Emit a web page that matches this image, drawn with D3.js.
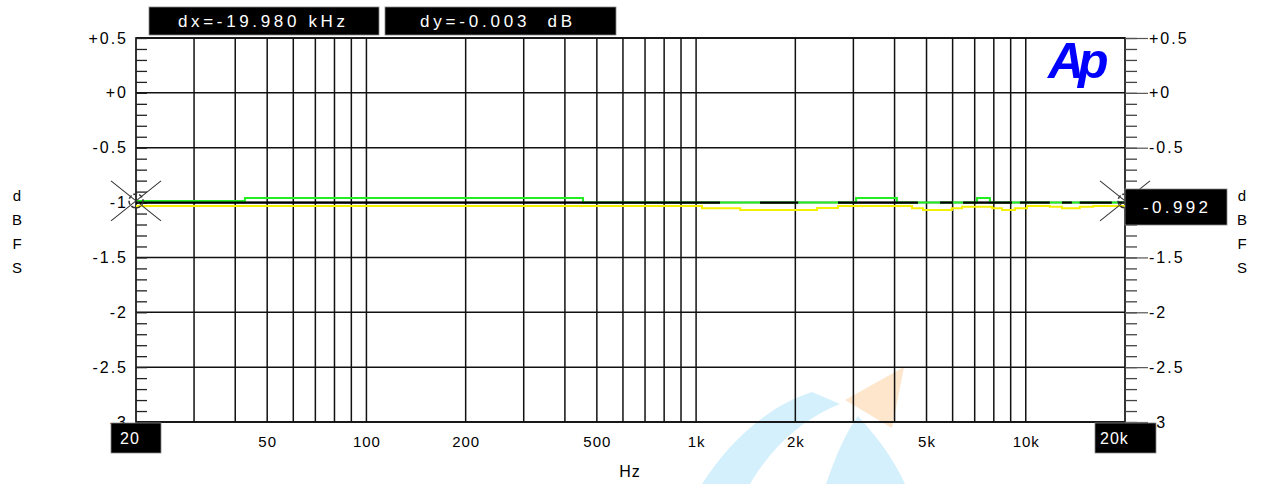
<!DOCTYPE html>
<html>
    <head>
        <title>Ap level vs frequency</title>
        <script src="https://d3js.org/d3.v7.min.js"></script>
        <style>
            body { margin: 0; background: #fff; }
            text { font-family: "Liberation Sans", Arial, sans-serif; }
        </style>
    </head>
    <body>
        <script>
            // tick values and labels
            const xTickValues = [20, 50, 100, 200, 500, 1000, 2000, 5000, 10000, 20000];
            const xTickLabels = ["20", "50", "100", "200", "500", "1k", "2k", "5k", "10k", "20k"];
            const xGridFreqs = [30, 40, 50, 60, 70, 80, 90, 100, 200, 300, 400, 500, 600, 700, 800, 900,
                                1000, 2000, 3000, 4000, 5000, 6000, 7000, 8000, 9000, 10000];
            const yTickValues = [0.5, 0, -0.5, -1, -1.5, -2, -2.5, -3];
            const yTickLabels = ["+0.5", "+0", "-0.5", "-1", "-1.5", "-2", "-2.5", "-3"];

            // green trace: step start frequency (Hz) and level (dBFS)
            const greenFreq = [20, 42.8, 454, 3056, 4066, 7114, 7784, 20000];
            const greenDb   = [-0.985, -0.958, -1.0, -0.958, -1.0, -0.958, -1.0, -1.0];

            // yellow trace
            const yellowFreq = [20, 1042, 1361, 2328, 2694, 4520, 4878, 5970, 6412, 7912, 8478, 9270, 10090, 11830, 12880, 14580, 16000, 20000];
            const yellowDb   = [-1.031, -1.052, -1.067, -1.05, -1.031, -1.052, -1.067, -1.052, -1.037, -1.052, -1.067, -1.052, -1.031, -1.037, -1.052, -1.037, -1.031, -1.031];

            // black trace, drawn where it shows (start Hz, end Hz) at its level
            const blackDb = -1.0;
            const blackSegments = [[20, 1182], [1563, 2040], [2694, 4710], [5494, 6012], [6454, 9080],
                                   [9600, 11830], [12880, 13800], [14580, 18240], [19050, 20000]];

            const WIDTH = 1262;
            const HEIGHT = 484;
            const margin = {left: 136, right: 1125, top: 38, bottom: 422};

            const svg = d3.select("body").append("svg")
                .attr("width", WIDTH)
                .attr("height", HEIGHT);

            svg.append("rect").attr("width", WIDTH).attr("height", HEIGHT).attr("fill", "#fff");

            // faint watermark behind everything
            const wm = svg.append("g").attr("id", "watermark");
            wm.append("path")
                .attr("d", "M702,484 C730,440 770,405 812,392 L840,404 C800,420 770,450 750,484 Z")
                .attr("fill", "#d3f0fc");
            wm.append("path")
                .attr("d", "M826,484 C836,455 846,432 858,416 C880,440 895,462 905,484 Z")
                .attr("fill", "#d3f0fc");
            wm.append("path")
                .attr("d", "M845,400 L904,367 L892,428 Z")
                .attr("fill", "#fde6cc");

            let xScale = d3.scaleLog().domain([20, 20000]).range([margin.left, margin.right]);
            let yScale = d3.scaleLinear().domain([-3, 0.5]).range([margin.bottom, margin.top]);

            const grid = svg.append("g").attr("id", "grid");
            grid.selectAll(".vgrid")
                .data(xGridFreqs)
                .enter()
                .append("line")
                .attr("class", "vgrid")
                .attr("x1", d => xScale(d)).attr("x2", d => xScale(d))
                .attr("y1", margin.top).attr("y2", margin.bottom)
                .attr("stroke", "#111").attr("stroke-width", 1.5);
            grid.selectAll(".hgrid")
                .data(yTickValues)
                .enter()
                .append("line")
                .attr("class", "hgrid")
                .attr("x1", margin.left).attr("x2", margin.right)
                .attr("y1", d => yScale(d)).attr("y2", d => yScale(d))
                .attr("stroke", "#111").attr("stroke-width", 1.5);

            // frame
            svg.append("rect")
                .attr("x", margin.left).attr("y", margin.top)
                .attr("width", margin.right - margin.left).attr("height", margin.bottom - margin.top)
                .attr("fill", "none").attr("stroke", "#111").attr("stroke-width", 1.7);

            // minor ticks every 0.1 dB
            const minorTicks = d3.range(-30, 6).map(d => d / 10);
            svg.append("g")
                .attr("transform", "translate(" + margin.left + ",0)")
                .call(d3.axisLeft(yScale).tickValues(minorTicks).tickSize(-11).tickFormat(""))
                .call(g => g.select(".domain").remove())
                .selectAll("line").attr("stroke", "#222").attr("stroke-width", 1.3);
            svg.append("g")
                .attr("transform", "translate(" + margin.right + ",0)")
                .call(d3.axisRight(yScale).tickValues(minorTicks).tickSize(12).tickFormat(""))
                .call(g => g.select(".domain").remove())
                .selectAll("line").attr("stroke", "#444").attr("stroke-width", 1.3);

            // left labels
            const yLeft = svg.append("g")
                .attr("transform", "translate(" + margin.left + ",0)")
                .call(d3.axisLeft(yScale).tickValues(yTickValues).tickSize(0).tickPadding(8)
                    .tickFormat((d, i) => yTickLabels[i]));
            yLeft.select(".domain").remove();
            yLeft.selectAll("text")
                .attr("font-size", 16).attr("letter-spacing", 2)
                .attr("font-family", "Liberation Sans, Arial, sans-serif").attr("fill", "#000");

            // right labels with long major ticks
            const yRight = svg.append("g")
                .attr("transform", "translate(" + margin.right + ",0)")
                .call(d3.axisRight(yScale).tickValues(yTickValues).tickSize(23).tickPadding(1)
                    .tickFormat((d, i) => yTickLabels[i]));
            yRight.select(".domain").remove();
            yRight.selectAll("line").attr("stroke", "#555").attr("stroke-width", 1.2);
            yRight.selectAll("text")
                .attr("font-size", 16).attr("letter-spacing", 2)
                .attr("font-family", "Liberation Sans, Arial, sans-serif").attr("fill", "#000");

            // bottom labels
            const xAxis = svg.append("g")
                .attr("transform", "translate(0," + margin.bottom + ")")
                .call(d3.axisBottom(xScale).tickValues(xTickValues).tickSize(0).tickPadding(14)
                    .tickFormat((d, i) => xTickLabels[i]));
            xAxis.select(".domain").remove();
            xAxis.selectAll("text")
                .attr("font-size", 15).attr("letter-spacing", 1)
                .attr("font-family", "Liberation Sans, Arial, sans-serif").attr("fill", "#000");

            svg.append("text")
                .attr("x", 630).attr("y", 477)
                .attr("text-anchor", "middle")
                .attr("font-size", 16).attr("letter-spacing", 1)
                .text("Hz");

            // dBFS stacked letters on both sides
            const unitLetters = ["d", "B", "F", "S"];
            [17, 1242].forEach(x => {
                svg.selectAll(null)
                    .data(unitLetters)
                    .enter()
                    .append("text")
                    .attr("x", x)
                    .attr("y", (d, i) => 201 + i * 24)
                    .attr("text-anchor", "middle")
                    .attr("font-size", 15)
                    .text(d => d);
            });

            // traces
            const stepLine = d3.line()
                .x(d => xScale(d[0]))
                .y(d => yScale(d[1]))
                .curve(d3.curveStepAfter);

            const plot = svg.append("g").attr("id", "traces");

            plot.append("path")
                .datum(greenFreq.map((f, i) => [f, greenDb[i]]))
                .attr("d", stepLine)
                .attr("fill", "none").attr("stroke", "#22ee22").attr("stroke-width", 2);

            plot.append("path")
                .datum(yellowFreq.map((f, i) => [f, yellowDb[i]]))
                .attr("d", stepLine)
                .attr("fill", "none").attr("stroke", "#f5f000").attr("stroke-width", 2);

            plot.selectAll(".black")
                .data(blackSegments)
                .enter()
                .append("line")
                .attr("class", "black")
                .attr("x1", d => xScale(d[0])).attr("x2", d => xScale(d[1]))
                .attr("y1", yScale(blackDb)).attr("y2", yScale(blackDb))
                .attr("stroke", "#000").attr("stroke-width", 2.2);

            // cursor markers at both ends
            [20, 20000].forEach(f => {
                const cx = xScale(f), cy = yScale(-0.985);
                const m = svg.append("g").attr("transform", "translate(" + cx + "," + cy + ")");
                m.append("line").attr("x1", -25).attr("y1", -20).attr("x2", 25).attr("y2", 20)
                    .attr("stroke", "#333").attr("stroke-width", 1.1);
                m.append("line").attr("x1", -25).attr("y1", 20).attr("x2", 25).attr("y2", -20)
                    .attr("stroke", "#333").attr("stroke-width", 1.1);
                m.append("circle").attr("r", 7).attr("fill", "none")
                    .attr("stroke", "#333").attr("stroke-width", 1.5).attr("stroke-dasharray", "4,2");
            });

            // black info boxes
            function infoBox(x, y, w, h, label, tx, size, span) {
                svg.append("rect").attr("x", x).attr("y", y).attr("width", w).attr("height", h)
                    .attr("fill", "#000").attr("stroke", "#888").attr("stroke-width", 0.8);
                const t = svg.append("text").attr("x", tx).attr("y", y + h / 2 + 6)
                    .attr("fill", "#fff").attr("font-size", size).attr("letter-spacing", 1)
                    .style("white-space", "pre")
                    .text(label);
                if (span) t.attr("textLength", span).attr("lengthAdjust", "spacing");
            }
            infoBox(149, 7, 230, 28, "dx=-19.980 kHz", 178, 17, 168);
            infoBox(385, 7, 231, 28, "dy=-0.003  dB", 420, 17, 153);
            infoBox(1125, 189, 102, 36, "-0.992", 1143, 17, 66);
            infoBox(111, 423, 50, 30, "20", 120, 16, 0);
            infoBox(1095, 423, 61, 30, "20k", 1100, 16, 0);

            // Ap logo
            svg.append("text")
                .attr("x", 1048).attr("y", 78)
                .attr("font-family", "DejaVu Sans, sans-serif")
                .attr("font-weight", "bold").attr("font-style", "italic")
                .attr("font-size", 50).attr("letter-spacing", -6)
                .attr("fill", "#0000ff")
                .text("Ap");
        </script>
    </body>
</html>
